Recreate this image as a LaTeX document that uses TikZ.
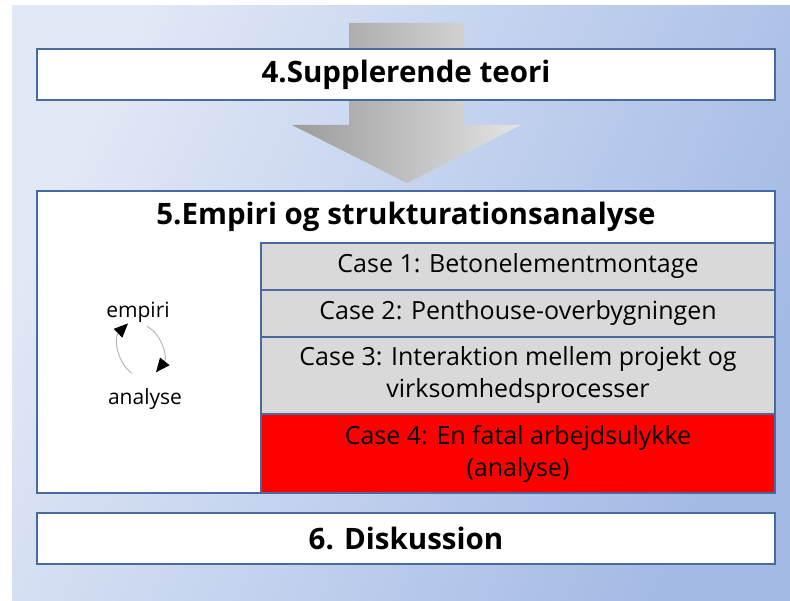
\documentclass[tikz,border=0pt]{standalone}
\usepackage{fontspec}
\setmainfont{Open Sans}
\usetikzlibrary{arrows.meta,positioning}
\definecolor{bgLight}{RGB}{225,232,246}
\definecolor{bgDark}{RGB}{163,186,229}
\definecolor{frameBlue}{RGB}{72,106,158}
\definecolor{caseGray}{RGB}{217,217,217}
\definecolor{caseRed}{RGB}{255,0,0}
\definecolor{arrowDark}{RGB}{155,155,155}
\definecolor{arrowLight}{RGB}{228,228,228}
\tikzset{
  secbox/.style={draw=frameBlue, line width=1.2pt, fill=white, minimum width=738pt,
    minimum height=51pt, inner sep=0pt, font=\fontsize{29.5}{34}\selectfont\bfseries},
  sectitle/.style={inner sep=0pt, font=\fontsize{29.5}{34}\selectfont\bfseries},
  casebox/.style={draw=frameBlue, line width=1.2pt, fill=caseGray, minimum width=514pt,
    inner sep=0pt, outer sep=0pt, align=center, font=\fontsize{25}{32}\selectfont},
  looptxt/.style={inner sep=0pt, font=\fontsize{21}{25}\selectfont},
  loopln/.style={-{Triangle[length=14pt,width=12pt,color=black]}, gray!60, line width=0.9pt},
}

\begin{document}
\begin{tikzpicture}[x=1pt, y=1pt]
    \useasboundingbox (0,0) rectangle (790,600);
    % background
    \shade[top color=bgLight, bottom color=bgDark, shading angle=65]
      (12,0) rectangle (790,594);
    % big arrow behind the first box
    \shade[left color=arrowDark, right color=arrowLight]
      (349,577) -- (464,577) -- (464,475) -- (521,475) -- (407,417)
      -- (292,475) -- (349,475) -- cycle;
    % chapters
    \node[secbox] (teori) at (406,525.5) {4.Supplerende teori};
    \node[secbox, minimum height=302pt] (empbox) at (406,258) {};
    \node[sectitle] (emptitle) at (406,383) {5.Empiri og strukturationsanalyse};
    \node[secbox] (disk) at (406,61.5) {6. Diskussion};
    % the cases
    \node[casebox, minimum height=47pt] (case1) at (518,333.5) {Case 1: Betonelementmontage};
    \node[casebox, minimum height=47pt, below=0pt of case1] (case2) {Case 2: Penthouse-overbygningen};
    \node[casebox, minimum height=77pt, below=0pt of case2] (case3)
      {Case 3: Interaktion mellem projekt og\\virksomhedsprocesser};
    \node[casebox, minimum height=79pt, fill=caseRed, below=0pt of case3] (case4)
      {Case 4: En fatal arbejdsulykke\\(analyse)};
    % empiri / analyse loop
    \node[looptxt] (emp) at (138,288) {empiri};
    \node[looptxt] (ana) at (145,201) {analyse};
    \draw[loopln] ([shift={(-13,15)}]ana.north) to[bend left=50] ([shift={(-10,-1)}]emp.south);
    \draw[loopln] ([shift={(9,-4)}]emp.south) to[bend left=50] ([shift={(11,16)}]ana.north);
\end{tikzpicture}
\end{document}
